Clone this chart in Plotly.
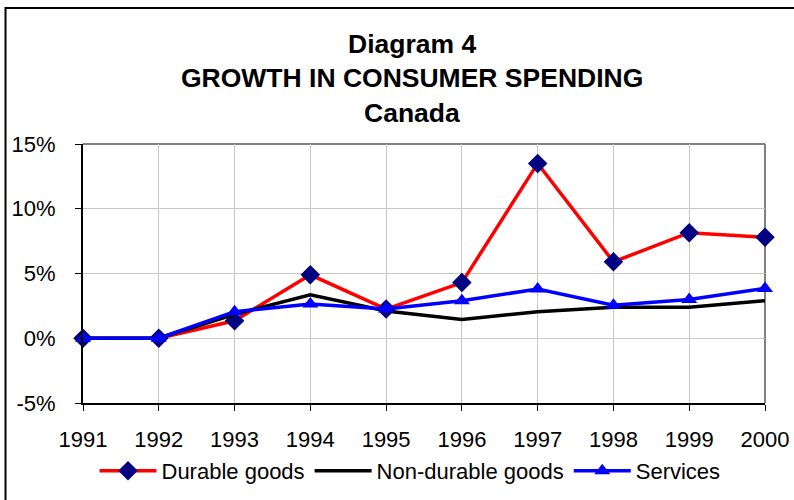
import plotly.graph_objects as go

years = [1991, 1992, 1993, 1994, 1995, 1996, 1997, 1998, 1999, 2000]
durable = [0.0, 0.0, 1.35, 4.9, 2.25, 4.3, 13.5, 5.9, 8.15, 7.8]
non_durable = [0.0, 0.0, 1.85, 3.35, 2.1, 1.45, 2.05, 2.4, 2.4, 2.9]
services = [0.0, 0.0, 2.05, 2.65, 2.25, 2.9, 3.8, 2.55, 3.0, 3.85]

y_tickvals = [-5, 0, 5, 10, 15]
y_ticktext = ["-5%", "0%", "5%", "10%", "15%"]
title_lines = ["Diagram 4", "GROWTH IN CONSUMER SPENDING", "Canada"]

FONT = "Liberation Sans, Arial, sans-serif"

fig = go.Figure()
fig.add_trace(go.Scatter(
    x=years, y=durable, name="Durable goods", mode="lines+markers",
    line=dict(color="#ff0000", width=3.5),
    marker=dict(symbol="diamond", size=15, color="#000080"),
    cliponaxis=False,
))
fig.add_trace(go.Scatter(
    x=years, y=non_durable, name="Non-durable goods", mode="lines",
    line=dict(color="#000000", width=3.5),
    cliponaxis=False,
))
fig.add_trace(go.Scatter(
    x=years, y=services, name="Services", mode="lines+markers",
    line=dict(color="#0000ff", width=3.5),
    marker=dict(symbol="triangle-up", size=14, color="#0000ff"),
    cliponaxis=False,
))

W, H = 794, 500
PL, PR, PT, PB = 83, 765, 144, 403  # plot area edges in pixels
L, T = PL, PT
pw, ph = PR - PL, PB - PT
R = W - L - pw
B = H - T - ph

def px(xp):
    return (xp - PL) / pw

def py(yp):
    return (PB - yp) / ph

annotations = []
for line, yc in zip(title_lines, [44, 78, 113]):
    annotations.append(dict(
        text="<b>%s</b>" % line, x=px(412), y=py(yc), xref="paper", yref="paper",
        xanchor="center", yanchor="middle", showarrow=False,
        font=dict(family=FONT, size=26.5, color="#000000"),
    ))

shapes = [
    dict(type="rect", xref="paper", yref="paper",
         x0=px(5.5), x1=px(820), y0=py(520), y1=py(8),
         line=dict(color="#000000", width=2), layer="below"),
    dict(type="line", xref="paper", yref="paper", x0=0, x1=1, y0=1, y1=1,
         line=dict(color="#808080", width=2), layer="below"),
    dict(type="line", xref="paper", yref="paper", x0=1, x1=1, y0=0, y1=1,
         line=dict(color="#808080", width=2), layer="below"),
]

fig.update_layout(
    width=W, height=H,
    margin=dict(l=L, r=R, t=T, b=B, pad=0, autoexpand=False),
    paper_bgcolor="#ffffff", plot_bgcolor="#ffffff",
    font=dict(family=FONT, size=22, color="#000000"),
    showlegend=True,
    legend=dict(orientation="h", x=px(410), xanchor="center", y=py(471), yanchor="middle",
                font=dict(family=FONT, size=22), bgcolor="rgba(0,0,0,0)", itemwidth=57),
    annotations=annotations,
    shapes=shapes,
)
fig.update_xaxes(
    range=[1991, 2000], tickvals=years, ticktext=[str(y) for y in years],
    showgrid=True, gridcolor="#c8c8c8", gridwidth=1,
    showline=True, linecolor="#000000", linewidth=2,
    ticks="outside", ticklen=6, tickcolor="#000000", tickwidth=1,
    ticklabelstandoff=10, zeroline=False, automargin=False,
    tickfont=dict(family=FONT, size=22),
)
fig.update_yaxes(
    range=[-5, 15], tickvals=y_tickvals, ticktext=y_ticktext,
    showgrid=True, gridcolor="#c8c8c8", gridwidth=1,
    showline=True, linecolor="#000000", linewidth=2,
    ticks="outside", ticklen=6, tickcolor="#000000", tickwidth=1,
    ticklabelstandoff=15, zeroline=False, automargin=False,
    tickfont=dict(family=FONT, size=22),
)

fig.write_html("out.html",
               config={"displayModeBar": False},
               post_script="document.body.style.margin='0';document.body.style.overflow='hidden';")
